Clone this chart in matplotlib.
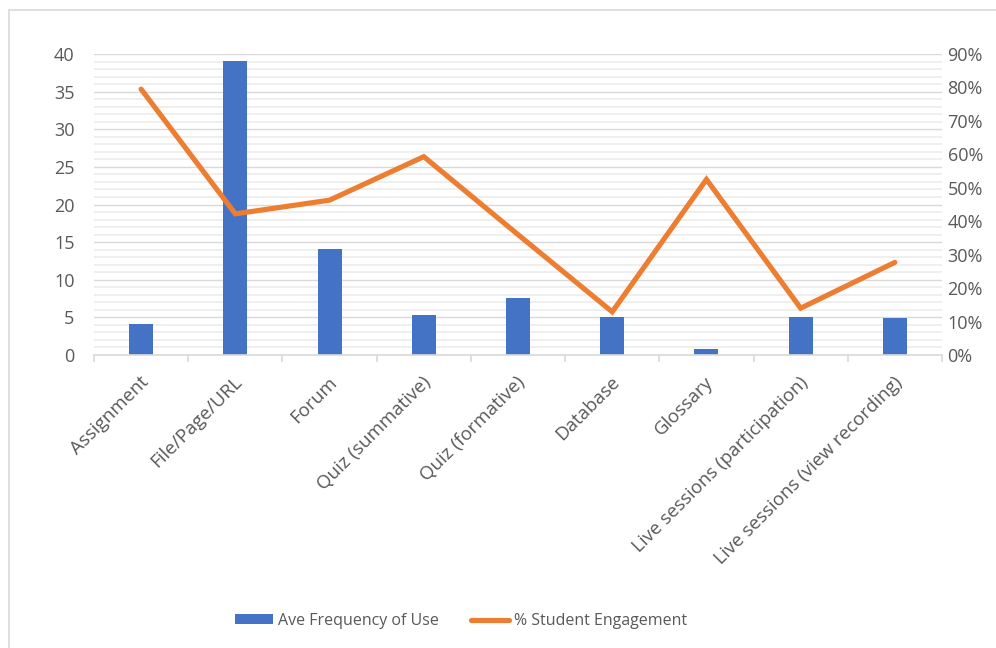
import numpy as np
import matplotlib
matplotlib.use("Agg")
import matplotlib.pyplot as plt
from matplotlib.ticker import MultipleLocator, FixedLocator, PercentFormatter
from matplotlib.patches import Rectangle, Patch
from matplotlib.lines import Line2D
from matplotlib.transforms import ScaledTranslation

plt.rcParams['font.family'] = ['Open Sans', 'DejaVu Sans']

# data
categories = ["Assignment", "File/Page/URL", "Forum", "Quiz (summative)",
              "Quiz (formative)", "Database", "Glossary",
              "Live sessions (participation)", "Live sessions (view recording)"]
ave_freq = [4.1, 39.1, 14.1, 5.3, 7.6, 5.0, 0.8, 5.0, 4.95]
engagement = [0.795, 0.422, 0.463, 0.593, 0.36, 0.129, 0.525, 0.14, 0.277]

blue = "#4472C4"
orange = "#ED7D31"
txt = "#595959"
grid_major = "#d9d9d9"
grid_minor = "#eeeeee"

fig = plt.figure(figsize=(9.96, 6.48), dpi=100)
fig.patches.append(Rectangle((9/996, -0.1), 1.2, 1 - 10/648 + 0.1,
                             transform=fig.transFigure, fill=False,
                             edgecolor="#d9d9d9", lw=1.2))

ax = fig.add_axes([94/996, 1 - 355/648, (942 - 94)/996, (355 - 54)/648])
x = np.arange(len(categories))

# left axis: bars
ax.set_ylim(0, 40)
ax.yaxis.set_major_locator(MultipleLocator(5))
ax.yaxis.set_minor_locator(MultipleLocator(1))
ax.grid(axis="y", which="major", color=grid_major, lw=1.0, zorder=0)
ax.grid(axis="y", which="minor", color=grid_minor, lw=1.3, zorder=0)
ax.set_axisbelow(True)
bars = ax.bar(x, ave_freq, width=0.255, color=blue, zorder=2)

ax.set_xlim(-0.5, len(categories) - 0.5)
ax.set_xticks(x)
ax.set_xticklabels(categories, rotation=45, ha="right", va="top",
                   rotation_mode="anchor", fontsize=13.5, color=txt)
ax.xaxis.set_minor_locator(FixedLocator(np.arange(-0.5, len(categories), 1)))
ax.tick_params(axis="x", which="major", length=0, pad=13)
ax.tick_params(axis="x", which="minor", length=5, color=grid_major, width=1.2)
for lab in ax.get_xticklabels():
    lab.set_transform(lab.get_transform() + ScaledTranslation(-2/100, 0, fig.dpi_scale_trans))
ax.tick_params(axis="y", which="both", length=0, pad=14, labelsize=13, labelcolor=txt)

for s in ["top", "left", "right"]:
    ax.spines[s].set_visible(False)
ax.spines["bottom"].set_color(grid_major)
ax.spines["bottom"].set_linewidth(1.2)

# right axis: line
ax2 = ax.twinx()
ax2.set_ylim(0, 0.9)
ax2.yaxis.set_major_locator(MultipleLocator(0.1))
ax2.yaxis.set_major_formatter(PercentFormatter(1.0, decimals=0))
ax2.tick_params(axis="y", length=0, pad=4, labelsize=13, labelcolor=txt)
for s in ["top", "left", "right", "bottom"]:
    ax2.spines[s].set_visible(False)
ax2.plot(x, engagement, color=orange, lw=3.7, solid_capstyle="round",
         solid_joinstyle="miter", zorder=3)

handles = [Patch(facecolor=blue, edgecolor="none"),
           Line2D([], [], color=orange, lw=3.7, solid_capstyle="round")]
fig.legend(handles, ["Ave Frequency of Use", "% Student Engagement"],
           loc="center", bbox_to_anchor=(461/996, 1 - 621/648), ncol=2,
           frameon=False, fontsize=11.5, labelcolor=txt, handlelength=2.4,
           handleheight=0.6, handletextpad=0.3, columnspacing=2.0)

fig.savefig("out.png", dpi=100)
